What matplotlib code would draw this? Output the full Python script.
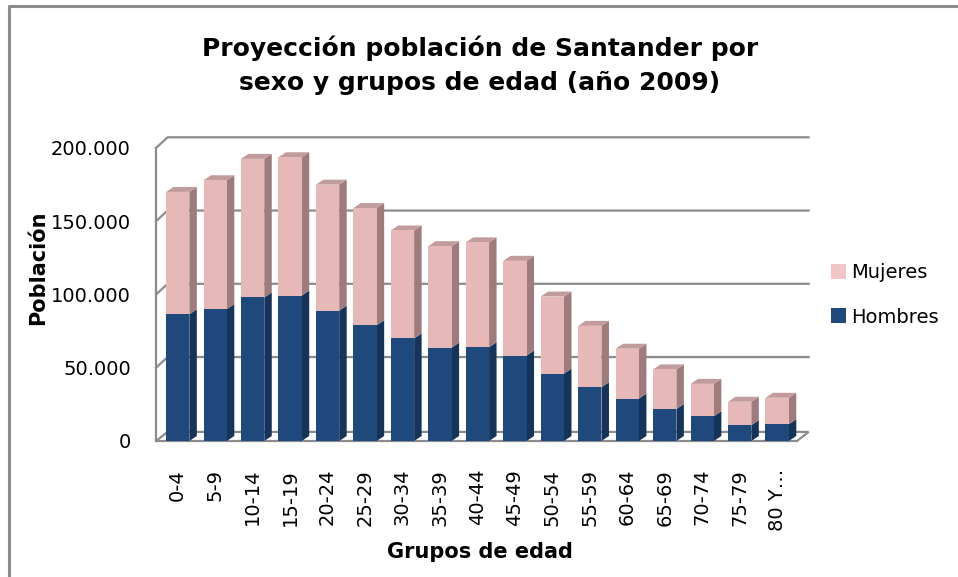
import matplotlib
matplotlib.use("Agg")
import matplotlib.pyplot as plt
from matplotlib.patches import Polygon, Patch
from matplotlib.ticker import FuncFormatter

grupos = ["0-4", "5-9", "10-14", "15-19", "20-24", "25-29", "30-34", "35-39",
          "40-44", "45-49", "50-54", "55-59", "60-64", "65-69", "70-74",
          "75-79", "80 Y…"]
hombres = [86500, 90000, 98000, 99300, 89000, 79000, 70000, 63700,
           64000, 58300, 46000, 36700, 29000, 21800, 16900, 10800, 11500]
mujeres = [83500, 88000, 94600, 94400, 86000, 80000, 73700, 69300,
           71600, 64700, 52600, 41900, 34000, 27100, 22100, 16000, 18000]

azul, azul_lado = "#1F497D", "#16335A"
rosa, rosa_lado, rosa_top = "#E6B9B8", "#9E7C7C", "#C29C9C"
gris = "#8C8C8C"

fig = plt.figure(figsize=(9.58, 5.77), dpi=100)
ax = fig.add_axes([156 / 958, 136 / 577, 641 / 958, 293 / 577])
xmin, xmax = -0.579, 16.53
ax.set_xlim(xmin, xmax)
ax.set_ylim(0, 200000)
for s in ax.spines.values():
    s.set_visible(False)

# paredes 3D (fondo + lateral izquierda + suelo)
wdx, wdy = 0.31, 7300
ax.plot([xmin, xmin], [0, 200000], color=gris, lw=1.6, clip_on=False, zorder=1)
for v in [50000, 100000, 150000, 200000]:
    ax.plot([xmin, xmin + wdx, xmax + wdx], [v, v + wdy, v + wdy],
            color=gris, lw=1.6, clip_on=False, zorder=1)
ax.add_patch(Polygon([(xmin, 0), (xmax, 0), (xmax + wdx, wdy * 0.85), (xmin + wdx, wdy * 0.85)],
                     closed=True, facecolor="white", edgecolor=gris, lw=1.6,
                     clip_on=False, zorder=1))

# barras apiladas con cara lateral y superior
x = list(range(len(grupos)))
w = 0.622
bdx, bdy = 0.2, 3400
ax.bar(x, hombres, w, color=azul, zorder=3, label="Hombres")
ax.bar(x, mujeres, w, bottom=hombres, color=rosa, zorder=3, label="Mujeres")
for i in x:
    x1 = i + w / 2
    x0 = i - w / 2
    h = hombres[i]
    t = hombres[i] + mujeres[i]
    ax.add_patch(Polygon([(x1, 0), (x1 + bdx, bdy), (x1 + bdx, h + bdy), (x1, h)],
                         closed=True, facecolor=azul_lado, lw=0, zorder=2.5, clip_on=False))
    ax.add_patch(Polygon([(x1, h), (x1 + bdx, h + bdy), (x1 + bdx, t + bdy), (x1, t)],
                         closed=True, facecolor=rosa_lado, lw=0, zorder=2.5, clip_on=False))
    ax.add_patch(Polygon([(x0, t), (x0 + bdx, t + bdy), (x1 + bdx, t + bdy), (x1, t)],
                         closed=True, facecolor=rosa_top, lw=0, zorder=2.5, clip_on=False))

ax.set_yticks([0, 50000, 100000, 150000, 200000])
ax.yaxis.set_major_formatter(FuncFormatter(lambda v, p: f"{int(v):,}".replace(",", ".")))
ax.set_xticks(x)
ax.set_xticklabels(grupos, rotation=90)
ax.tick_params(axis="y", length=0, pad=18, labelsize=14)
ax.tick_params(axis="x", length=0, pad=20, labelsize=14)

fig.text(0.501, 0.887, "Proyección población de Santander por\nsexo y grupos de edad (año 2009)",
         ha="center", va="center", fontsize=18, fontweight="bold", linespacing=1.55)
fig.text(0.501, 0.043, "Grupos de edad", ha="center", va="center",
         fontsize=15, fontweight="bold")
fig.text(0.040, 0.5355, "Población", ha="center", va="center", rotation=90,
         fontsize=15, fontweight="bold")

handles = [Patch(facecolor="#F0C6C6"), Patch(facecolor=azul)]
fig.legend(handles, ["Mujeres", "Hombres"], loc="center left",
           bbox_to_anchor=(813 / 958, 1 - 295 / 577), frameon=False,
           fontsize=14, handlelength=0.8, handleheight=0.8, handletextpad=0.25,
           labelspacing=1.3)

# marco exterior del gráfico
fig.add_artist(plt.Line2D([9 / 958, 9 / 958, 1.0], [0, 1 - 6 / 577, 1 - 6 / 577],
                          transform=fig.transFigure, color=gris, lw=2.2))

fig.savefig("out.png", dpi=100)
